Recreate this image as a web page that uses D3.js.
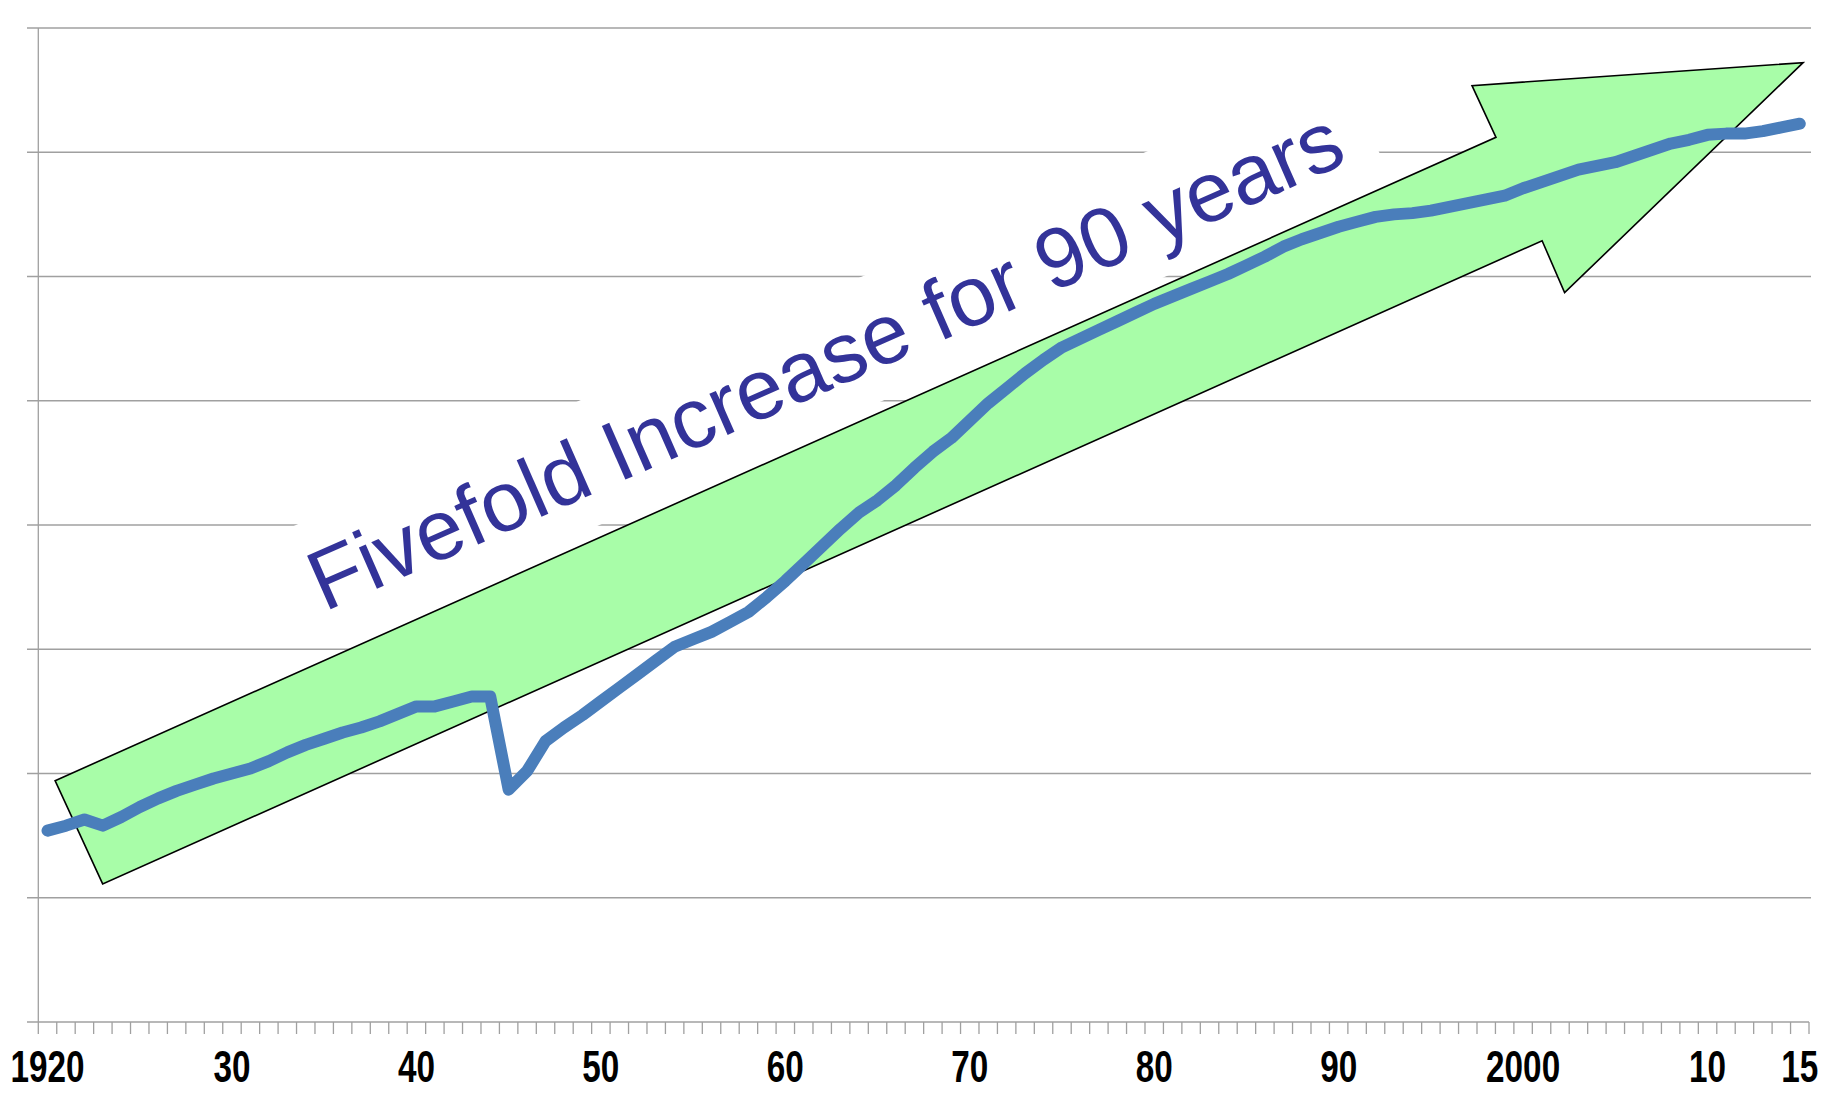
<!DOCTYPE html>
<html>
<head>
<meta charset="utf-8">
<script src="https://cdn.jsdelivr.net/npm/d3@7"></script>
<style>
  body { margin: 0; background: #fff; }
  svg { display: block; }
</style>
</head>
<body>
<svg id="chart"></svg>
<script>
// yearly series, in gridline units (no y labels on the original)
const years = d3.range(1920, 2016);
const values = [
  1.54, 1.58, 1.63, 1.58, 1.65, 1.73, 1.80, 1.86, 1.91, 1.96,
  2.00, 2.04, 2.10, 2.17, 2.23, 2.28, 2.33, 2.37, 2.42, 2.48,
  2.54, 2.54, 2.58, 2.62, 2.62, 1.87, 2.02, 2.26, 2.37, 2.47,
  2.58, 2.69, 2.80, 2.91, 3.02, 3.08, 3.14, 3.22, 3.30, 3.42,
  3.55, 3.69, 3.83, 3.97, 4.10, 4.20, 4.32, 4.46, 4.59, 4.70,
  4.84, 4.98, 5.10, 5.22, 5.33, 5.43, 5.50, 5.57, 5.64, 5.71,
  5.78, 5.84, 5.90, 5.96, 6.02, 6.09, 6.16, 6.24, 6.30, 6.35,
  6.40, 6.44, 6.48, 6.50, 6.51, 6.53, 6.56, 6.59, 6.62, 6.65,
  6.71, 6.76, 6.81, 6.86, 6.89, 6.92, 6.97, 7.02, 7.07, 7.10,
  7.14, 7.15, 7.15, 7.17, 7.20, 7.23
];
const labelYears = [1920, 1930, 1940, 1950, 1960, 1970, 1980, 1990, 2000, 2010, 2015];
const labelText = ["1920", "30", "40", "50", "60", "70", "80", "90", "2000", "10", "15"];
const gridValues = [1, 2, 3, 4, 5, 6, 7, 8];

// arrow outline in (year, value) space
const arrowPts = [
  [1920.41, 1.942], [1998.53, 7.120], [1997.23, 7.536], [2015.18, 7.721],
  [2002.25, 5.870], [2001.03, 6.288], [1922.99, 1.111]
];
const note = "Fivefold Increase for 90 years";
const noteAt = [1935.0, 3.30];
const noteAngle = -23.7;

const W = 1826, H = 1110;
const plotL = 38.3, plotR = 1809, plotT = 28, plotB = 1022;

const svg = d3.select("#chart").attr("width", W).attr("height", H);

const x = d3.scaleBand().domain(years).range([plotL, plotR]).padding(0);
const y = d3.scaleLinear().domain([0, 8]).range([plotB, plotT]);
const bw = x.bandwidth();
const cx = yr => x(yr) + bw / 2;
// continuous year position for the annotation shapes
const xc = d3.scaleLinear().domain([1920, 2015]).range([cx(1920), cx(2015)]);

// gridlines
svg.append("g").selectAll("line")
  .data(gridValues)
  .enter().append("line")
  .attr("x1", 27).attr("x2", 1811)
  .attr("y1", d => y(d)).attr("y2", d => y(d))
  .attr("stroke", "#a0a0a0").attr("stroke-width", 1.3);

// x axis line + yearly ticks
svg.append("line")
  .attr("x1", 27).attr("x2", plotR)
  .attr("y1", plotB).attr("y2", plotB)
  .attr("stroke", "#a0a0a0").attr("stroke-width", 1.3);
svg.append("g").selectAll("line")
  .data(years.concat([null]))
  .enter().append("line")
  .attr("x1", d => d === null ? plotR : x(d))
  .attr("x2", d => d === null ? plotR : x(d))
  .attr("y1", plotB).attr("y2", plotB + 12)
  .attr("stroke", "#a0a0a0").attr("stroke-width", 1.3);

// y axis line
svg.append("line")
  .attr("x1", plotL).attr("x2", plotL)
  .attr("y1", plotT).attr("y2", plotB)
  .attr("stroke", "#a0a0a0").attr("stroke-width", 1.3);

// x labels (narrow bold digits)
svg.append("g").selectAll("text")
  .data(labelYears)
  .enter().append("text")
  .attr("transform", d => `translate(${cx(d)},1082) scale(0.74,1)`)
  .attr("text-anchor", "middle")
  .style("font-family", "'Liberation Sans', Arial, sans-serif")
  .style("font-weight", "bold")
  .style("font-size", "45px")
  .style("fill", "#000")
  .text((d, i) => labelText[i]);

// note: white box under rotated text
const tx = xc(noteAt[0]), ty = y(noteAt[1]);
const noteG = svg.append("g").attr("transform", `translate(${tx},${ty}) rotate(${noteAngle})`);
const noteBox = noteG.append("rect").attr("fill", "#fff");

// arrow
svg.append("path")
  .attr("d", d3.line().x(d => xc(d[0])).y(d => y(d[1]))(arrowPts) + "Z")
  .attr("fill", "#a8fda8")
  .attr("stroke", "#000")
  .attr("stroke-width", 1.6)
  .attr("stroke-linejoin", "miter");

// series line
svg.append("path")
  .datum(values)
  .attr("d", d3.line().x((d, i) => cx(years[i])).y(d => y(d)))
  .attr("fill", "none")
  .attr("stroke", "#4a7ebb")
  .attr("stroke-width", 12)
  .attr("stroke-linejoin", "round")
  .attr("stroke-linecap", "round");

// text on top
const noteText = svg.append("g").attr("transform", `translate(${tx},${ty}) rotate(${noteAngle})`)
  .append("text")
  .attr("x", 0).attr("y", 0)
  .style("font-family", "'Liberation Sans', Arial, sans-serif")
  .style("font-size", "85px")
  .style("fill", "#333399")
  .text(note);

const bb = noteText.node().getBBox();
noteBox
  .attr("x", bb.x - 12)
  .attr("y", bb.y - 14)
  .attr("width", bb.width + 12 + 31)
  .attr("height", bb.height + 14 + 13);
</script>
</body>
</html>
